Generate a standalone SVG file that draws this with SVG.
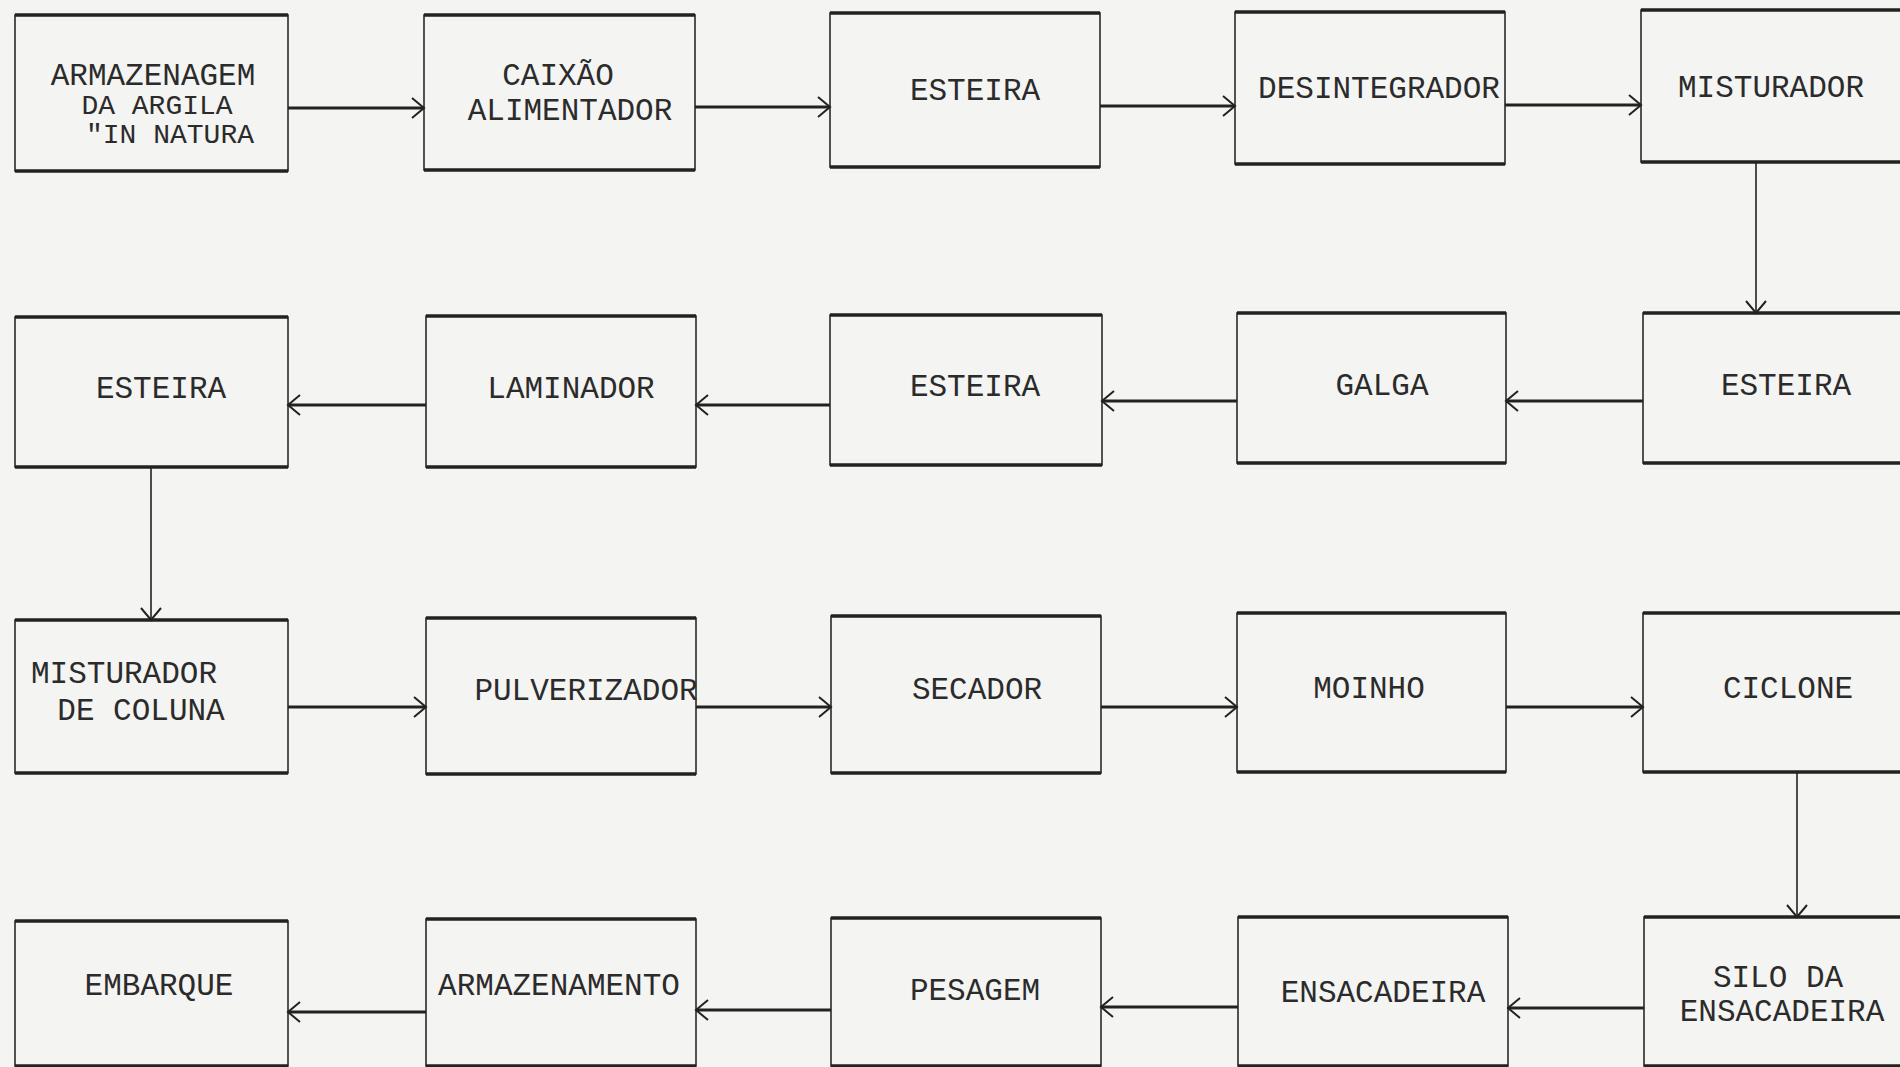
<svg xmlns="http://www.w3.org/2000/svg" width="1900" height="1067" viewBox="0 0 1900 1067">
<style>
.bg{fill:#f4f4f2}
.box{fill:none;stroke:#2a2a2a;stroke-width:1.6}
.edge{stroke:#222;stroke-width:3.5;fill:none}
.t{font-family:"Liberation Mono","DejaVu Sans Mono",monospace;font-size:31px;fill:#2b2b2b;text-anchor:middle}
.s{font-size:28px}
.h{stroke:#222;stroke-width:3.2;fill:none}
.v{stroke:#222;stroke-width:1.6;fill:none}
</style>
<defs>
<marker id="ah" markerUnits="userSpaceOnUse" markerWidth="18" markerHeight="26" refX="14" refY="12" orient="auto">
<path d="M2,2 L14,12 L2,22" fill="none" stroke="#222" stroke-width="2"/>
</marker>
</defs>
<rect class="bg" x="0" y="0" width="1900" height="1067"/>

<g id="n1"><rect class="box" x="15" y="15" width="273" height="156"/><path class="edge" d="M15,15H288M15,171H288"/>
<text class="t" x="153" y="85">ARMAZENAGEM</text><text class="t s" x="157" y="114">DA ARGILA</text><text class="t s" x="170" y="143">"IN NATURA</text></g>
<g id="n2"><rect class="box" x="424" y="15" width="271" height="155"/><path class="edge" d="M424,15H695M424,170H695"/>
<text class="t" x="558" y="85">CAIXÃO</text><text class="t" x="570" y="120">ALIMENTADOR</text></g>
<g id="n3"><rect class="box" x="830" y="13" width="270" height="154"/><path class="edge" d="M830,13H1100M830,167H1100"/>
<text class="t" x="975" y="100">ESTEIRA</text></g>
<g id="n4"><rect class="box" x="1235" y="12" width="270" height="152"/><path class="edge" d="M1235,12H1505M1235,164H1505"/>
<text class="t" x="1379" y="98">DESINTEGRADOR</text></g>
<g id="n5"><rect class="box" x="1641" y="10" width="272" height="152"/><path class="edge" d="M1641,10H1913M1641,162H1913"/>
<text class="t" x="1771" y="97">MISTURADOR</text></g>

<g id="n6"><rect class="box" x="15" y="317" width="273" height="150"/><path class="edge" d="M15,317H288M15,467H288"/>
<text class="t" x="161" y="398">ESTEIRA</text></g>
<g id="n7"><rect class="box" x="426" y="316" width="270" height="151"/><path class="edge" d="M426,316H696M426,467H696"/>
<text class="t" x="571" y="398">LAMINADOR</text></g>
<g id="n8"><rect class="box" x="830" y="315" width="272" height="150"/><path class="edge" d="M830,315H1102M830,465H1102"/>
<text class="t" x="975" y="396">ESTEIRA</text></g>
<g id="n9"><rect class="box" x="1237" y="313" width="269" height="150"/><path class="edge" d="M1237,313H1506M1237,463H1506"/>
<text class="t" x="1382" y="395">GALGA</text></g>
<g id="n10"><rect class="box" x="1643" y="313" width="270" height="150"/><path class="edge" d="M1643,313H1913M1643,463H1913"/>
<text class="t" x="1786" y="395">ESTEIRA</text></g>

<g id="n11"><rect class="box" x="15" y="620" width="273" height="153"/><path class="edge" d="M15,620H288M15,773H288"/>
<text class="t" x="124" y="683">MISTURADOR</text><text class="t" x="141" y="720">DE COLUNA</text></g>
<g id="n12"><rect class="box" x="426" y="618" width="270" height="156"/><path class="edge" d="M426,618H696M426,774H696"/>
<text class="t" x="586" y="700">PULVERIZADOR</text></g>
<g id="n13"><rect class="box" x="831" y="616" width="270" height="157"/><path class="edge" d="M831,616H1101M831,773H1101"/>
<text class="t" x="977" y="699">SECADOR</text></g>
<g id="n14"><rect class="box" x="1237" y="613" width="269" height="159"/><path class="edge" d="M1237,613H1506M1237,772H1506"/>
<text class="t" x="1369" y="698">MOINHO</text></g>
<g id="n15"><rect class="box" x="1643" y="613" width="270" height="159"/><path class="edge" d="M1643,613H1913M1643,772H1913"/>
<text class="t" x="1788" y="698">CICLONE</text></g>

<g id="n16"><rect class="box" x="15" y="921" width="273" height="145"/><path class="edge" d="M15,921H288M15,1066H288"/>
<text class="t" x="159" y="995">EMBARQUE</text></g>
<g id="n17"><rect class="box" x="426" y="919" width="270" height="147"/><path class="edge" d="M426,919H696M426,1066H696"/>
<text class="t" x="559" y="995">ARMAZENAMENTO</text></g>
<g id="n18"><rect class="box" x="831" y="918" width="270" height="148"/><path class="edge" d="M831,918H1101M831,1066H1101"/>
<text class="t" x="975" y="1000">PESAGEM</text></g>
<g id="n19"><rect class="box" x="1238" y="917" width="270" height="149"/><path class="edge" d="M1238,917H1508M1238,1066H1508"/>
<text class="t" x="1383" y="1002">ENSACADEIRA</text></g>
<g id="n20"><rect class="box" x="1644" y="917" width="269" height="149"/><path class="edge" d="M1644,917H1913M1644,1066H1913"/>
<text class="t" x="1778" y="987">SILO DA</text><text class="t" x="1782" y="1021">ENSACADEIRA</text></g>

<g id="connectors">
<path class="h" marker-end="url(#ah)" d="M288,108H424"/>
<path class="h" marker-end="url(#ah)" d="M695,107H830"/>
<path class="h" marker-end="url(#ah)" d="M1100,106H1235"/>
<path class="h" marker-end="url(#ah)" d="M1505,105H1641"/>
<path class="v" marker-end="url(#ah)" d="M1756,162V313"/>
<path class="h" marker-end="url(#ah)" d="M1643,401H1506"/>
<path class="h" marker-end="url(#ah)" d="M1237,401H1102"/>
<path class="h" marker-end="url(#ah)" d="M830,405H696"/>
<path class="h" marker-end="url(#ah)" d="M426,405H288"/>
<path class="v" marker-end="url(#ah)" d="M151,467V620"/>
<path class="h" marker-end="url(#ah)" d="M288,707H426"/>
<path class="h" marker-end="url(#ah)" d="M696,707H831"/>
<path class="h" marker-end="url(#ah)" d="M1101,707H1237"/>
<path class="h" marker-end="url(#ah)" d="M1506,707H1643"/>
<path class="v" marker-end="url(#ah)" d="M1797,772V917"/>
<path class="h" marker-end="url(#ah)" d="M1644,1008H1508"/>
<path class="h" marker-end="url(#ah)" d="M1238,1007H1101"/>
<path class="h" marker-end="url(#ah)" d="M831,1010H696"/>
<path class="h" marker-end="url(#ah)" d="M426,1012H288"/>
</g>
</svg>
